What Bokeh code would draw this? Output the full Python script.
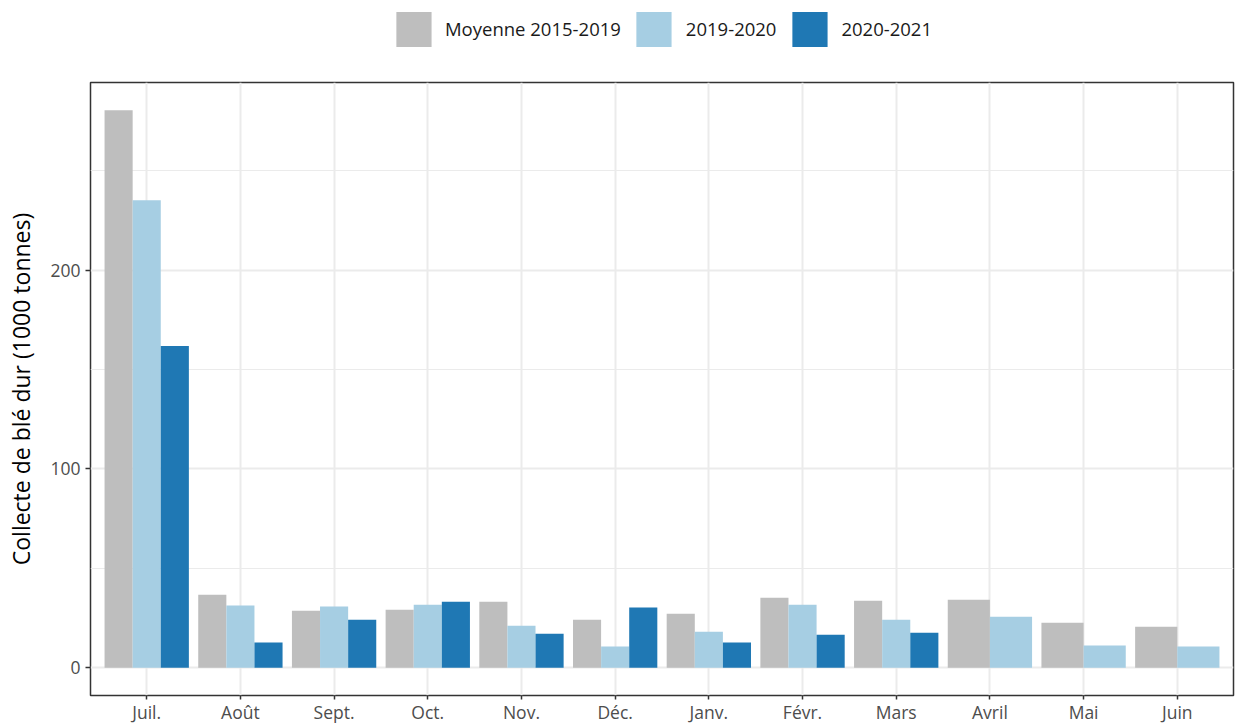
from bokeh.plotting import figure
from bokeh.layouts import column
from bokeh.models import FixedTicker, Legend, LegendItem, ColumnDataSource, Range1d
from bokeh.embed import file_html
from bokeh.resources import INLINE

months = ["Juil.", "Août", "Sept.", "Oct.", "Nov.", "Déc.", "Janv.", "Févr.", "Mars", "Avril", "Mai", "Juin"]
moyenne = [280.4, 36.7, 28.6, 29.1, 33.2, 24.1, 27.1, 35.2, 33.7, 34.2, 22.6, 20.6]
s1920 = [235.2, 31.2, 30.7, 31.7, 21.1, 10.6, 18.1, 31.7, 24.1, 25.6, 11.1, 10.6]
s2021 = [161.8, 12.6, 24.1, 33.2, 17.1, 30.2, 12.6, 16.6, 17.6, None, None, None]
series_names = ["Moyenne 2015-2019", "2019-2020", "2020-2021"]
series_values = [moyenne, s1920, s2021]
colors = ["#bebebe", "#a6cee3", "#1f78b4"]
y_ticks = [0, 100, 200]

FONT = "Open Sans"
LEG_H = 57

p = figure(width=1241, height=726 - LEG_H, output_backend="svg", toolbar_location=None,
           x_range=Range1d(0.4, 12.6), y_range=Range1d(-14.02, 294.4),
           min_border_left=90, min_border_right=8, min_border_top=82 - LEG_H, min_border_bottom=29)

# dodge like ggplot: total width 0.9 shared by present series
renderers = []
for s_idx, (name, vals, col) in enumerate(zip(series_names, series_values, colors)):
    xs, tops, widths = [], [], []
    for i in range(len(months)):
        present = [k for k in range(len(series_values)) if series_values[k][i] is not None]
        if vals[i] is None:
            continue
        n = len(present)
        w = 0.9 / n
        pos = present.index(s_idx)
        xs.append(i + 1 - 0.45 + w * (pos + 0.5))
        tops.append(vals[i])
        widths.append(w)
    src = ColumnDataSource(dict(x=xs, top=tops, w=widths))
    r = p.vbar(x="x", top="top", width="w", bottom=0, source=src, fill_color=col, line_color=None)
    renderers.append(r)

# legend figure above the chart (zero-height proxy bars only carry the legend swatches)
lf = figure(width=1241, height=LEG_H, output_backend="svg", toolbar_location=None,
            x_range=Range1d(0, 1), y_range=Range1d(0, 1),
            min_border_left=90, min_border_right=8, min_border_top=0, min_border_bottom=0)
lf.axis.visible = False
lf.grid.visible = False
lf.outline_line_color = None
leg_renderers = [lf.vbar(x=[0.5], top=[0], bottom=[0], width=0.0, fill_color=c, line_color=None)
                 for c in colors]

legend = Legend(items=[LegendItem(label=n, renderers=[r]) for n, r in zip(series_names, leg_renderers)],
                orientation="horizontal", location="center")
legend.glyph_width = 44
legend.glyph_height = 44
legend.label_height = 44
legend.label_standoff = 10
legend.spacing = 11
legend.padding = 0
legend.margin = 0
legend.border_line_color = None
legend.background_fill_alpha = 0
legend.label_text_font = FONT
legend.label_text_font_size = "18.5px"
legend.label_text_color = "#1a1a1a"
lf.add_layout(legend, "center")

p.xaxis.ticker = FixedTicker(ticks=list(range(1, len(months) + 1)))
p.xaxis.major_label_overrides = {i + 1: m for i, m in enumerate(months)}
p.yaxis.ticker = FixedTicker(ticks=y_ticks, minor_ticks=[50, 150, 250])
p.ygrid.ticker = FixedTicker(ticks=y_ticks, minor_ticks=[50, 150, 250])

for ax in (p.xaxis[0], p.yaxis[0]):
    ax.axis_line_color = None
    ax.major_tick_line_color = "#333333"
    ax.major_tick_line_width = 1.5
    ax.major_tick_out = 5
    ax.major_tick_in = 0
    ax.minor_tick_line_color = None
    ax.major_label_text_font = FONT
    ax.major_label_text_font_size = "17.5px"
    ax.major_label_text_color = "#4d4d4d"
    ax.major_label_standoff = 5
p.xaxis.major_tick_out = 4
p.xaxis.major_label_standoff = 0

p.yaxis.axis_label = "Collecte de blé dur (1000 tonnes)"
p.yaxis.axis_label_text_font = FONT
p.yaxis.axis_label_text_font_size = "23px"
p.yaxis.axis_label_text_font_style = "normal"
p.yaxis.axis_label_text_color = "#000000"
p.yaxis.axis_label_standoff = 10

p.xgrid.grid_line_color = "#ebebeb"
p.xgrid.grid_line_width = 2
p.ygrid.grid_line_color = "#ebebeb"
p.ygrid.grid_line_width = 2
p.ygrid.minor_grid_line_color = "#ebebeb"
p.ygrid.minor_grid_line_width = 1

p.outline_line_color = "#333333"
p.outline_line_width = 1.5
p.background_fill_color = "white"

layout = column(lf, p, spacing=0)
open("out.html", "w").write(file_html(layout, INLINE))
